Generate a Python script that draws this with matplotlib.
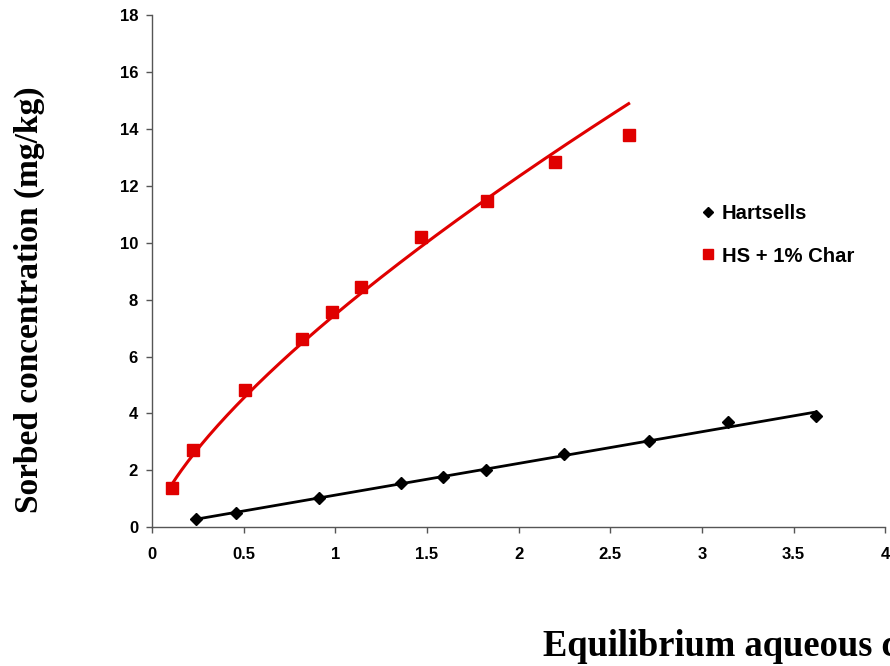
import numpy as np
import matplotlib
matplotlib.use('Agg')
import matplotlib.pyplot as plt
from matplotlib.lines import Line2D

# Hartsells soil
hs_x = [0.24, 0.46, 0.91, 1.36, 1.59, 1.82, 2.25, 2.71, 3.14, 3.62]
hs_y = [0.29, 0.51, 1.03, 1.55, 1.75, 2.00, 2.58, 3.03, 3.69, 3.90]

# Hartsells + 1% char
char_x = [0.11, 0.225, 0.51, 0.82, 0.98, 1.14, 1.47, 1.83, 2.20, 2.60]
char_y = [1.39, 2.71, 4.82, 6.63, 7.55, 8.43, 10.20, 11.47, 12.82, 13.79]

x_ticks = [0, 0.5, 1, 1.5, 2, 2.5, 3, 3.5, 4]
y_ticks = [0, 2, 4, 6, 8, 10, 12, 14, 16, 18]

fig = plt.figure(figsize=(8.9, 6.66), dpi=100)
ax = fig.add_axes([152 / 890, 1 - 527.3 / 666, (885.3 - 152) / 890, (527.3 - 15) / 666])

# trendlines: linear for soil, power (Freundlich) for soil + char
a, b = np.polyfit(hs_x, hs_y, 1)
xl = np.linspace(min(hs_x), max(hs_x), 50)
ax.plot(xl, a * xl + b, color='black', lw=2, zorder=2)

n, logk = np.polyfit(np.log(char_x), np.log(char_y), 1)
xc = np.linspace(min(char_x), max(char_x), 200)
ax.plot(xc, np.exp(logk) * xc ** n, color='#e00000', lw=2.2, zorder=2)

ax.plot(hs_x, hs_y, 'D', color='black', ms=6, ls='none', zorder=3)
ax.plot(char_x, char_y, 's', color='#e00000', ms=8, ls='none', zorder=3)

ax.set_xlim(0, 4)
ax.set_ylim(0, 18)
ax.set_xticks(x_ticks)
ax.set_xticklabels([f'{t:g}' for t in x_ticks])
ax.set_yticks(y_ticks)
ax.spines['top'].set_visible(False)
ax.spines['right'].set_visible(False)
for s in ['left', 'bottom']:
    ax.spines[s].set_color('#555555')
    ax.spines[s].set_linewidth(1)
ax.tick_params(direction='out', length=4, width=1, color='#555555')
ax.tick_params(axis='x', pad=10)
ax.tick_params(axis='y', pad=6)
for lbl in ax.get_xticklabels() + ax.get_yticklabels():
    lbl.set_fontfamily('Liberation Sans')
    lbl.set_fontweight('bold')
    lbl.set_fontsize(12)

handles = [
    Line2D([], [], marker='D', color='black', ls='none', ms=5.5),
    Line2D([], [], marker='s', color='#e00000', ls='none', ms=7),
]
ax.legend(handles, ['Hartsells', 'HS + 1% Char'], loc='upper left',
          bbox_to_anchor=(684 / 890, 1 - 186 / 666), bbox_transform=fig.transFigure,
          frameon=False, handlelength=0.6, handletextpad=0.35, labelspacing=1.15,
          prop={'family': 'Liberation Sans', 'weight': 'bold', 'size': 14.6})

fig.text(29 / 890, 1 - 300 / 666, 'Sorbed concentration (mg/kg)', rotation=90,
         ha='center', va='center', family='Liberation Serif', weight='bold', fontsize=24)
fig.text(543 / 890, 1 - 656 / 666, 'Equilibrium aqueous concentration (mg/L)',
         ha='left', va='baseline', family='Liberation Serif', weight='bold', fontsize=26.3)

fig.savefig('out.png', dpi=100)
